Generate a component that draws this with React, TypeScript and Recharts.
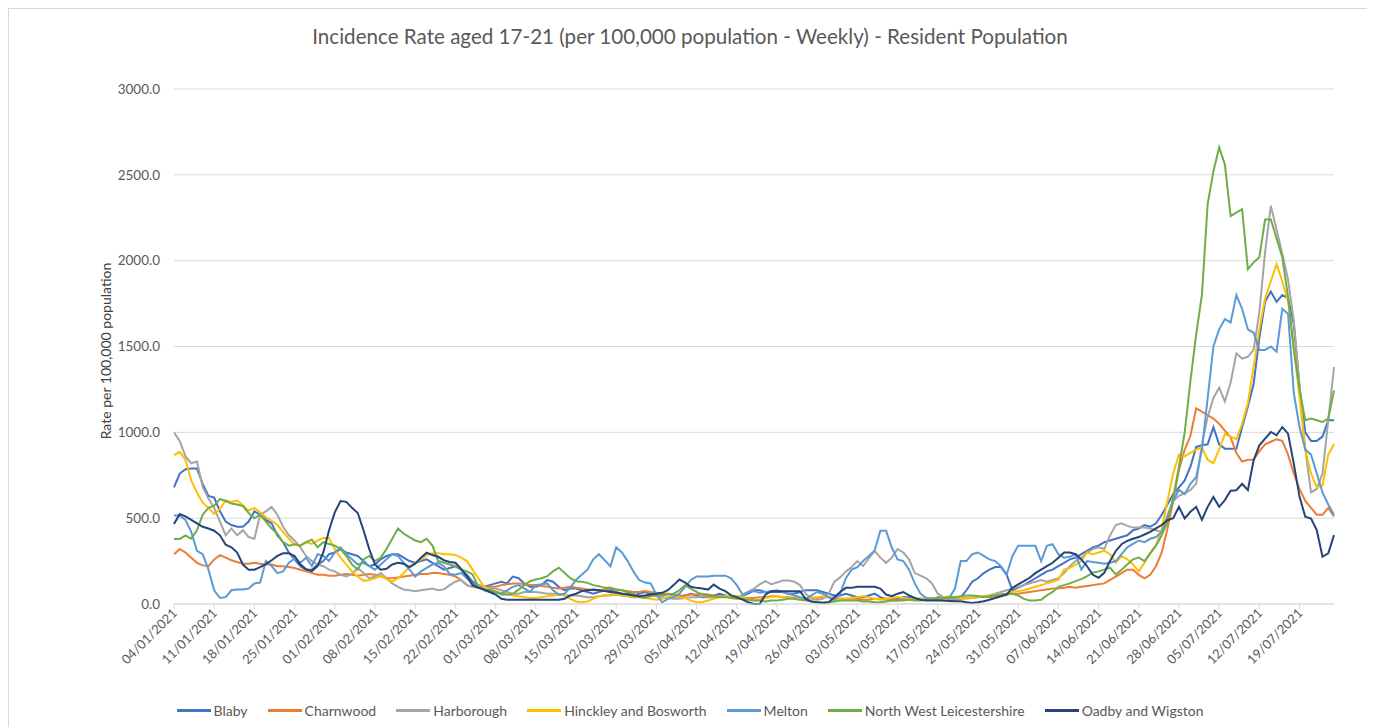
import React from "react";
import { LineChart, Line, XAxis, YAxis, CartesianGrid } from "recharts";

// daily categories 04/01/2021 .. 25/07/2021
const dates: string[] = Array.from({ length: 203 }, (_, i) => {
  const d = new Date(Date.UTC(2021, 0, 4 + i));
  const dd = String(d.getUTCDate()).padStart(2, "0");
  const mm = String(d.getUTCMonth() + 1).padStart(2, "0");
  return `${dd}/${mm}/${d.getUTCFullYear()}`;
});

const yTicks = [0, 500, 1000, 1500, 2000, 2500, 3000];

// one row per week (7 days)
const blaby = [
  680, 760, 785, 790, 790, 700, 630,
  620, 540, 480, 460, 450, 450, 480,
  540, 520, 490, 470, 400, 360, 300,
  260, 220, 200, 200, 230, 250, 290,
  300, 320, 300, 290, 280, 250, 220,
  230, 260, 280, 290, 290, 270, 250,
  240, 250, 260, 240, 220, 200, 210,
  220, 200, 170, 130, 110, 100, 110,
  120, 130, 120, 160, 150, 120, 100,
  100, 110, 140, 130, 100, 80, 90,
  90, 80, 70, 60, 70, 80, 80,
  70, 60, 60, 50, 60, 70, 60,
  50, 50, 60, 50, 40, 50, 60,
  50, 40, 40, 50, 60, 50, 40,
  40, 50, 60, 80, 80, 70, 70,
  70, 70, 60, 60, 70, 80, 80,
  80, 70, 60, 50, 50, 60, 50,
  40, 40, 50, 60, 40, 30, 30,
  30, 40, 40, 30, 30, 30, 30,
  40, 40, 30, 30, 40, 80, 130,
  150, 180, 200, 215, 215, 170, 80,
  95, 110, 130, 150, 170, 190, 200,
  220, 240, 260, 270, 290, 310, 330,
  340, 360, 370, 380, 390, 400, 430,
  440, 460, 450, 470, 520, 580, 640,
  680, 720, 800, 915, 925, 930, 1030,
  930, 905, 905, 905, 1030, 1150, 1280,
  1550, 1760, 1820, 1760, 1800, 1780, 1630,
  1264, 1000, 950, 950, 975, 1070, 1070,
];

const charnwood = [
  290, 320, 300, 270, 240, 225, 220,
  260, 285, 270, 255, 245, 235, 235,
  240, 235, 230, 230, 220, 220, 215,
  210, 200, 190, 180, 170, 170, 165,
  165, 170, 175, 170, 165, 170, 175,
  170, 160, 150, 150, 155, 160, 165,
  170, 175, 175, 180, 180, 175, 170,
  160, 140, 110, 100, 95, 95, 100,
  100, 110, 115, 120, 120, 115, 110,
  110, 105, 100, 95, 90, 95, 100,
  95, 90, 85, 80, 80, 85, 90,
  85, 80, 75, 70, 70, 75, 70,
  65, 60, 60, 55, 50, 50, 55,
  55, 60, 55, 50, 45, 45, 40,
  40, 40, 35, 35, 40, 40, 45,
  45, 40, 40, 35, 30, 30, 35,
  35, 40, 40, 35, 30, 30, 30,
  30, 25, 25, 30, 30, 25, 20,
  20, 20, 25, 25, 30, 30, 25,
  25, 20, 20, 25, 30, 35, 35,
  40, 45, 40, 45, 50, 55, 60,
  60, 65, 70, 75, 80, 85, 90,
  90, 95, 100, 95, 100, 105, 110,
  115, 120, 140, 160, 180, 200, 200,
  170, 150, 170, 220, 300, 440, 600,
  780, 900, 980, 1140, 1120, 1100, 1080,
  1050, 1010, 970, 880, 830, 840, 840,
  890, 930, 945, 960, 950, 870, 760,
  670, 600, 560, 520, 520, 560, 510,
];

const harborough = [
  1000, 950, 860, 820, 830, 680, 615,
  560, 480, 400, 440, 400, 430, 390,
  380, 520, 540, 565, 520, 450, 400,
  370, 330, 280, 250, 230, 220, 200,
  190, 170, 160, 175, 210, 180, 150,
  160, 180, 150, 120, 100, 85, 80,
  75, 80, 85, 90, 80, 85, 110,
  130, 140, 110, 100, 110, 100, 90,
  90, 80, 70, 60, 60, 70, 70,
  70, 65, 60, 60, 55, 50, 50,
  50, 45, 40, 40, 45, 50, 50,
  55, 50, 45, 40, 40, 45, 50,
  45, 40, 35, 30, 30, 35, 40,
  40, 45, 40, 35, 40, 45, 45,
  40, 50, 70, 90, 115, 133, 115,
  125, 137, 137, 130, 110, 60, 30,
  25, 30, 60, 130, 155, 190, 215,
  250, 221, 265, 309, 270, 240, 270,
  320, 300, 260, 180, 165, 150, 120,
  60, 40, 30, 30, 30, 35, 40,
  40, 45, 50, 60, 70, 80, 90,
  100, 110, 120, 130, 140, 130, 140,
  150, 180, 220, 250, 270, 300, 320,
  330, 320, 400, 460, 470, 455, 445,
  445, 445, 440, 430, 420, 520, 600,
  630, 645, 665, 700, 930, 1090, 1200,
  1260, 1180, 1290, 1460, 1430, 1440, 1480,
  1700, 2050, 2320, 2180, 2040, 1890, 1650,
  1270, 900, 650, 670, 760, 1070, 1380,
];

const hinckley = [
  867, 886, 840, 720, 650, 590, 560,
  525, 554, 603, 595, 603, 575, 544,
  560, 534, 505, 485, 460, 420, 380,
  345, 340, 360, 350, 370, 385, 385,
  320, 270, 230, 190, 160, 135, 140,
  150, 165, 145, 130, 150, 180, 215,
  240, 260, 285, 295, 295, 290, 290,
  285, 270, 250, 200, 150, 100, 85,
  75, 65, 55, 50, 45, 40, 35,
  35, 40, 45, 50, 55, 50, 30,
  15, 10, 15, 30, 45, 50, 55,
  55, 50, 45, 45, 40, 35, 30,
  25, 30, 40, 45, 40, 35, 20,
  10, 10, 20, 30, 40, 45, 50,
  45, 40, 30, 20, 25, 35, 40,
  45, 40, 35, 30, 30, 35, 40,
  40, 45, 40, 35, 30, 30, 35,
  40, 45, 40, 30, 25, 30, 35,
  40, 35, 30, 25, 30, 30, 35,
  35, 40, 45, 40, 35, 30, 35,
  40, 45, 50, 50, 55, 60, 70,
  75, 80, 90, 100, 110, 120, 130,
  140, 200, 210, 230, 250, 300, 290,
  300, 310, 290, 240, 280, 260, 230,
  190, 240, 300, 340, 440, 600, 760,
  870, 860, 880, 900, 910, 840, 820,
  900, 990, 975, 960, 1050, 1170, 1380,
  1600, 1780, 1880, 1980, 1880, 1760, 1500,
  1200, 900, 760, 680, 690, 870, 930,
];

const melton = [
  515, 515, 490, 420, 310, 290, 200,
  80, 35, 40, 80, 85, 85, 90,
  120, 125, 250, 221, 180, 190, 240,
  265, 240, 270, 221, 290, 280, 250,
  300, 330, 290, 260, 230, 240, 220,
  200, 230, 260, 290, 280, 240, 200,
  160, 190, 210, 230, 240, 220, 175,
  170, 180, 150, 120, 100, 80, 70,
  70, 60, 80, 100, 110, 90, 70,
  110, 115, 120, 80, 55, 60, 94,
  140, 170, 200, 260, 290, 255, 220,
  330, 300, 250, 190, 140, 125, 120,
  55, 10, 30, 40, 60, 100, 140,
  160, 160, 160, 165, 165, 165, 150,
  110, 55, 70, 75, 65, 70, 75,
  80, 70, 60, 50, 40, 30, 50,
  70, 60, 40, 20, 60, 150, 200,
  215, 250, 280, 310, 426, 426, 329,
  260, 250, 200, 120, 60, 35, 30,
  30, 35, 35, 90, 250, 250, 290,
  300, 280, 260, 250, 220, 172, 280,
  340, 340, 340, 339, 250, 339, 348,
  290, 270, 275, 290, 200, 250, 245,
  240, 235, 240, 250, 290, 330, 350,
  370, 360, 380, 390, 420, 500, 600,
  665, 640, 700, 740, 900, 1200, 1500,
  1600, 1660, 1640, 1800, 1720, 1600, 1580,
  1480, 1480, 1500, 1470, 1720, 1690, 1230,
  1030, 900, 870, 760, 650, 580, 520,
];

const nwLeics = [
  378, 378, 400, 380, 430, 520, 560,
  573, 612, 600, 585, 580, 570, 530,
  500, 520, 480, 440, 410, 360, 340,
  348, 340, 360, 375, 330, 360, 350,
  340, 320, 280, 230, 200, 260, 280,
  250, 270, 320, 380, 440, 410, 390,
  370, 360, 380, 340, 250, 240, 230,
  220, 200, 190, 172, 100, 80, 84,
  70, 55, 55, 60, 84, 110, 133,
  143, 150, 162, 190, 211, 182, 150,
  133, 130, 123, 110, 104, 94, 94,
  85, 80, 70, 60, 40, 35, 45,
  55, 50, 55, 60, 80, 110, 90,
  70, 55, 50, 45, 40, 40, 35,
  30, 30, 25, 20, 20, 15, 20,
  20, 25, 30, 30, 25, 20, 15,
  10, 10, 10, 15, 20, 20, 20,
  20, 15, 15, 10, 10, 15, 20,
  20, 25, 25, 20, 20, 25, 30,
  35, 35, 40, 40, 45, 50, 50,
  45, 40, 45, 50, 55, 60, 60,
  50, 30, 20, 20, 25, 50, 70,
  100, 110, 120, 133, 145, 162, 182,
  190, 200, 211, 172, 200, 230, 260,
  270, 250, 295, 340, 400, 480, 620,
  800, 1000, 1300, 1570, 1800, 2330, 2520,
  2660, 2560, 2260, 2280, 2300, 1950, 1990,
  2020, 2240, 2240, 2130, 2020, 1790, 1480,
  1250, 1070, 1080, 1070, 1060, 1080, 1244,
];

const oadby = [
  466, 524, 510, 490, 470, 450, 440,
  427, 400, 345, 330, 300, 230, 200,
  200, 215, 232, 255, 280, 295, 295,
  280, 231, 202, 192, 221, 300, 430,
  534, 600, 595, 560, 530, 430, 320,
  230, 200, 205, 230, 240, 235, 215,
  235, 270, 299, 285, 275, 255, 245,
  240, 205, 160, 110, 95, 85, 70,
  55, 30, 25, 25, 25, 25, 25,
  25, 25, 25, 25, 25, 30, 50,
  60, 75, 80, 84, 80, 75, 70,
  65, 60, 55, 50, 45, 50, 55,
  60, 65, 80, 110, 143, 125, 100,
  94, 90, 84, 113, 90, 75, 50,
  40, 25, 10, 0, 0, 55, 75,
  75, 75, 75, 75, 75, 30, 15,
  10, 6, 10, 40, 70, 94, 94,
  100, 100, 100, 100, 90, 55, 45,
  60, 70, 50, 35, 25, 20, 20,
  20, 20, 18, 16, 16, 10, 6,
  10, 16, 25, 35, 45, 55, 94,
  115, 133, 153, 180, 200, 221, 240,
  270, 300, 300, 290, 260, 220, 170,
  153, 182, 250, 309, 348, 368, 380,
  390, 405, 420, 440, 460, 488, 500,
  566, 498, 537, 566, 490, 566, 624,
  566, 605, 660, 663, 700, 663, 837,
  924, 963, 1002, 983, 1031, 992, 818,
  624, 508, 498, 430, 275, 295, 401,
];

const series = [
  { key: "blaby", name: "Blaby", color: "#4472C4", values: blaby },
  { key: "charnwood", name: "Charnwood", color: "#ED7D31", values: charnwood },
  { key: "harborough", name: "Harborough", color: "#A5A5A5", values: harborough },
  { key: "hinckley", name: "Hinckley and Bosworth", color: "#FFC000", values: hinckley },
  { key: "melton", name: "Melton", color: "#5B9BD5", values: melton },
  { key: "nwl", name: "North West Leicestershire", color: "#70AD47", values: nwLeics },
  { key: "oadby", name: "Oadby and Wigston", color: "#264478", values: oadby },
];

const data = dates.map((date, i) => {
  const row: any = { date };
  series.forEach((s) => {
    row[s.key] = s.values[i];
  });
  return row;
});

const FONT = "Lato, 'Open Sans', sans-serif";
const TEXT = "#595959";

const DateTick = ({ x, y, payload }: any) => (
  <text
    x={x + 4}
    y={y + 3}
    transform={`rotate(-45 ${x + 4} ${y + 3})`}
    textAnchor="end"
    fontSize={13}
    fill={TEXT}
    fontFamily={FONT}
  >
    {payload.value}
  </text>
);

export default function App() {
  return (
    <div
      style={{
        position: "relative",
        width: 1362,
        height: 719,
        border: "1px solid #d9d9d9",
        background: "#fff",
        fontFamily: FONT,
      }}
    >
      <div
        style={{
          position: "absolute",
          top: 15,
          left: 0,
          width: "100%",
          textAlign: "center",
          fontSize: 20.6,
          color: TEXT,
        }}
      >
        Incidence Rate aged 17-21 (per 100,000 population - Weekly) - Resident Population
      </div>
      <div
        style={{
          position: "absolute",
          left: 96,
          top: 342,
          transform: "translate(-50%, -50%) rotate(-90deg)",
          whiteSpace: "nowrap",
          fontSize: 14,
          color: "#404040",
        }}
      >
        Rate per 100,000 population
      </div>
      <LineChart
        width={1362}
        height={719}
        data={data}
        margin={{ top: 80, right: 37, bottom: 0, left: 100 }}
      >
        <CartesianGrid vertical={false} stroke="#d9d9d9" />
        <XAxis
          dataKey="date"
          interval={6}
          height={124}
          tick={<DateTick />}
          tickSize={5}
          tickMargin={2}
          axisLine={{ stroke: "#d9d9d9" }}
          tickLine={{ stroke: "#d9d9d9" }}
        />
        <YAxis
          width={65}
          domain={[0, 3000]}
          ticks={yTicks}
          interval={0}
          tickFormatter={(v: number) => v.toFixed(1)}
          axisLine={false}
          tickLine={false}
          tickMargin={8}
          tick={{ fontSize: 13.5, fill: TEXT, fontFamily: FONT }}
        />
        {series.map((s) => (
          <Line
            key={s.key}
            type="linear"
            dataKey={s.key}
            name={s.name}
            stroke={s.color}
            strokeWidth={2}
            dot={false}
            isAnimationActive={false}
          />
        ))}
      </LineChart>
      <div
        style={{
          position: "absolute",
          top: 693,
          left: 0,
          width: "100%",
          display: "flex",
          justifyContent: "center",
          gap: 20,
          fontSize: 14,
          color: TEXT,
        }}
      >
        {series.map((s) => (
          <div key={s.key} style={{ display: "flex", alignItems: "center" }}>
            <span
              style={{
                display: "inline-block",
                width: 34,
                height: 3,
                background: s.color,
                marginRight: 3,
              }}
            />
            <span>{s.name}</span>
          </div>
        ))}
      </div>
    </div>
  );
}
